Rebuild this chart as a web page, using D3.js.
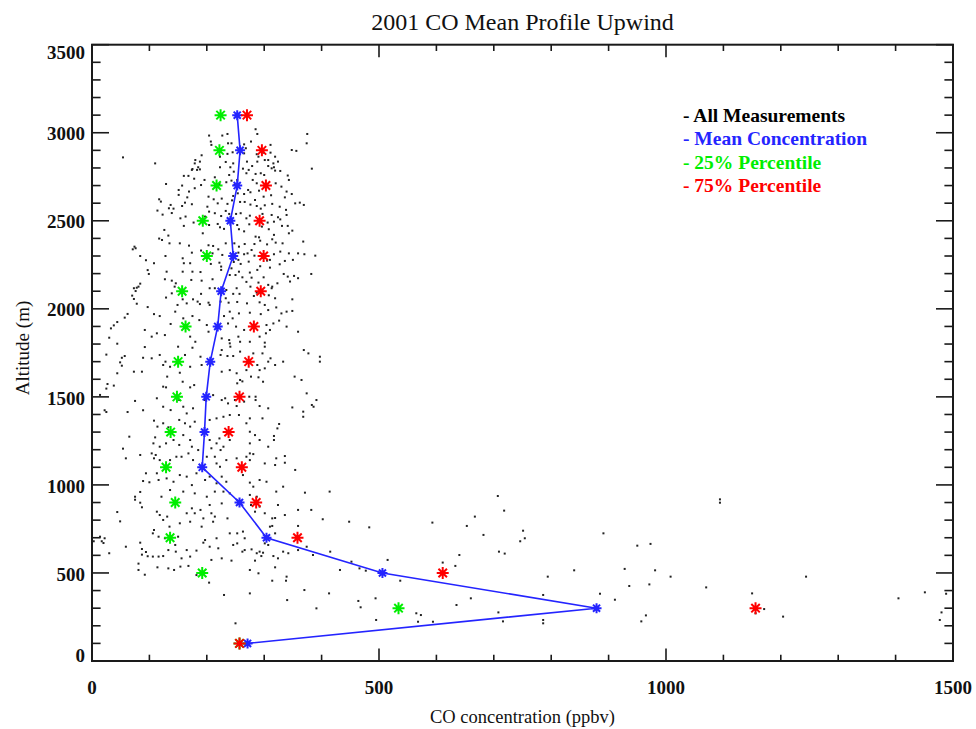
<!DOCTYPE html>
<html>
<head>
<meta charset="utf-8">
<script src="https://cdn.jsdelivr.net/npm/d3@7"></script>
<style>
  body { margin: 0; background: #fff; }
  svg { display: block; }
</style>
</head>
<body>
<svg id="chart" width="976" height="729"></svg>
<script>
// profile levels (m) and the three CO profiles (ppbv)
const altitudes = [100, 300, 500, 700, 900, 1100, 1300, 1500, 1700, 1900, 2100, 2300, 2500, 2700, 2900, 3100];
const meanCO = [271, 879, 506, 304, 257, 192, 196, 199, 206, 219, 225, 246, 241, 253, 258, 253];
const p25CO  = [257, 534, 192, 136, 145, 129, 137, 148, 150, 163, 157, 200, 193, 217, 222, 224];
const p75CO  = [257, 1156, 611, 358, 286, 261, 238, 257, 273, 282, 294, 299, 292, 303, 296, 270];

const xTickLabels = [0, 500, 1000, 1500];
const yTickLabels = [0, 500, 1000, 1500, 2000, 2500, 3000, 3500];

const legendLabels = ["- All Measurements", "- Mean Concentration", "- 25% Percentile", "- 75% Percentile"];

const measurements = [
  [285,3020],[204,2984],[227,2984],[236,2993],[288,2993],[375,2993],[207,2950],[208,2931],[277,2950],[265,2934],
  [243,2940],[268,2912],[237,2940],[311,2931],[374,2940],[245,2889],[236,2880],[287,2878],[299,2887],[265,2883],
  [290,2864],[348,2902],[356,2897],[311,2887],[319,2864],[191,2872],[180,2845],[110,2826],[179,2826],[188,2836],
  [223,2864],[233,2834],[223,2804],[241,2804],[246,2826],[270,2836],[288,2836],[301,2845],[307,2845],[316,2826],
  [324,2836],[313,2798],[319,2785],[307,2811],[317,2804],[263,2796],[273,2789],[279,2811],[383,2796],[175,2794],
  [174,2789],[185,2804],[183,2789],[188,2792],[160,2755],[168,2755],[239,2760],[269,2770],[285,2766],[294,2770],
  [300,2760],[247,2779],[328,2783],[341,2757],[343,2732],[178,2739],[196,2732],[214,2747],[129,2709],[157,2700],
  [179,2685],[169,2666],[190,2703],[222,2709],[234,2719],[243,2728],[248,2703],[253,2732],[287,2713],[280,2732],
  [320,2713],[330,2694],[151,2675],[151,2647],[117,2622],[166,2633],[203,2637],[212,2622],[226,2626],[246,2641],
  [254,2656],[265,2652],[272,2675],[276,2662],[291,2671],[336,2633],[339,2666],[348,2652],[299,2637],[312,2645],
  [120,2609],[137,2590],[134,2571],[114,2558],[123,2535],[162,2603],[157,2584],[174,2594],[201,2580],[219,2599],
  [236,2596],[244,2616],[258,2607],[266,2607],[276,2592],[284,2618],[287,2584],[301,2588],[294,2569],[314,2596],
  [327,2580],[354,2599],[362,2603],[369,2590],[338,2562],[339,2533],[324,2520],[142,2569],[139,2544],[154,2514],
  [163,2524],[204,2552],[197,2524],[214,2543],[225,2527],[233,2556],[239,2539],[251,2539],[259,2543],[269,2514],
  [275,2529],[297,2539],[313,2533],[317,2495],[306,2490],[328,2508],[341,2471],[331,2471],[126,2448],[133,2416],
  [160,2471],[177,2490],[193,2429],[204,2476],[219,2482],[223,2463],[230,2454],[253,2476],[256,2452],[265,2440],
  [274,2480],[296,2467],[308,2452],[317,2420],[349,2444],[343,2429],[117,2399],[122,2391],[135,2372],[153,2372],
  [169,2359],[203,2361],[211,2357],[233,2372],[248,2372],[256,2353],[266,2368],[283,2368],[285,2410],[291,2406],
  [293,2387],[305,2366],[314,2395],[332,2372],[368,2382],[320,2376],[128,2300],[108,2259],[158,2287],[174,2319],
  [190,2331],[210,2315],[220,2338],[227,2306],[255,2319],[265,2310],[271,2315],[278,2334],[283,2302],[310,2278],
  [317,2310],[328,2325],[343,2315],[359,2315],[370,2310],[389,2302],[382,2198],[160,2259],[171,2259],[207,2255],
  [222,2262],[225,2240],[247,2266],[255,2278],[259,2255],[273,2268],[288,2221],[293,2242],[305,2274],[310,2234],
  [327,2253],[336,2272],[350,2278],[130,2211],[158,2211],[175,2211],[189,2209],[225,2221],[243,2230],[256,2211],
  [275,2206],[334,2198],[341,2183],[127,2168],[139,2160],[146,2145],[173,2164],[191,2160],[210,2168],[240,2192],
  [250,2192],[262,2179],[269,2153],[278,2177],[290,2149],[299,2179],[314,2126],[323,2145],[345,2155],[352,2187],
  [359,2174],[144,2126],[139,2088],[205,2117],[234,2107],[252,2117],[276,2126],[287,2092],[307,2136],[313,2117],
  [129,2064],[158,2054],[176,2054],[190,2085],[214,2117],[233,2060],[246,2085],[257,2085],[282,2073],[308,2077],
  [319,2060],[349,2054],
  [149,2022],[165,2031],[184,2041],[188,2027],[203,2035],[205,2022],[224,2041],[238,2035],[253,2039],[270,2031],
  [292,2037],[301,2022],[321,2008],[330,1974],[339,1984],[349,1988],[307,1993],[294,1970],[275,1978],[256,1974],
  [240,1984],[230,1959],[245,1946],[108,1970],[118,1959],[145,1984],[159,1946],[175,1959],[187,1936],[137,1914],
  [200,1908],[203,1870],[237,1917],[251,1899],[265,1880],[304,1908],[310,1880],[303,1861],[316,1917],[326,1933],
  [339,1899],[359,1870],[113,1861],[104,1842],[127,1851],[171,1842],[180,1813],[150,1785],[175,1779],[226,1832],
  [239,1823],[240,1804],[241,1785],[255,1842],[258,1813],[275,1813],[301,1808],[301,1785],[292,1842],[369,1766],
  [377,1747],[397,1728],[397,1700],[104,1719],[118,1738],[128,1700],[162,1738],[189,1728],[191,1681],[226,1766],
  [224,1738],[236,1732],[246,1732],[258,1757],[281,1747],[297,1747],[311,1719],[307,1700],[288,1681],[292,1652],
  [301,1662],[319,1681],[333,1700],[124,1681],[136,1671],[171,1671],[153,1637],[158,1586],[131,1615],[124,1558],
  [129,1554],[178,1567],[171,1554],[226,1643],[240,1652],[252,1634],[258,1596],[253,1577],[262,1588],[269,1652],
  [277,1615],[290,1611],[298,1586],[353,1615],[365,1596],[374,1520],[391,1482],[386,1444],[383,1454],[349,1440],
  [368,1416],[368,1387],[113,1492],[124,1444],[137,1425],[152,1482],[159,1444],[165,1406],[176,1435],[197,1482],
  [211,1510],[226,1482],[232,1492],[237,1463],[249,1482],[252,1448],[265,1473],[274,1501],[285,1501],[285,1482],
  [292,1448],[307,1435],[108,1365],[114,1331],[124,1350],[133,1327],[152,1369],[162,1350],[171,1331],[179,1359],
  [205,1369],[217,1378],[229,1387],[240,1397],[256,1397],[275,1378],[269,1350],[297,1378],[275,1302],[284,1283],
  [292,1255],[326,1346],[323,1321],[317,1278],[317,1255],[110,1270],[107,1236],[118,1217],[129,1236],[142,1255],
  [152,1227],[159,1283],[171,1255],[174,1217],[185,1198],[205,1255],[208,1208],[217,1236],[222,1264],[229,1217],
  [224,1198],[240,1255],[275,1236],[275,1179],[281,1175],[307,1217],[321,1151],[336,1164],[104,1179],[111,1170],
  [108,1151],[118,1141],[136,1141],[147,1160],[156,1160],[168,1179],[176,1141],[200,1160],[214,1160],[217,1122],
  [223,1103],[234,1141],[252,1151],[269,1160],[275,1141],[301,1122],[319,1113],[336,1126],[354,1085],[113,1066],
  [116,1028],[130,1037],[142,1018],[153,1056],[165,1047],[174,999],[182,1066],[197,1028],[205,1047],[217,1009],
  [214,962],[226,1047],[234,1018],[263,1056],[275,1013],[281,990],[292,1028],[304,1018],[321,962],[333,990],
  [371,956],[414,962],[121,933],[136,971],[159,962],[179,952],[200,933],[229,962],[240,952],[275,943],[287,933],
  [707,937],[113,848],[118,829],[124,801],[131,820],[108,744],[106,725],[116,706],[127,697],[135,763],[153,782],
  [150,706],[165,839],[171,791],[174,867],[179,839],[189,858],[194,810],[191,763],[197,687],[205,886],[208,839],
  [214,820],[211,791],[217,697],[226,895],[236,810],[240,725],[246,659],[253,725],[263,735],[266,697],[277,886],
  [284,848],[292,877],[301,839],[314,810],[319,812],[314,767],[324,886],[336,829],[359,858],[359,767],[382,858],
  [402,805],[448,791],[483,759],[593,786],[653,767],[667,820],[682,716],[310,763],[319,725],[106,593],[116,593],
  [124,596],[133,630],[145,659],[146,621],[156,583],[165,630],[171,593],[182,627],[194,672],[205,649],[208,574],
  [220,640],[226,583],[243,570],[253,668],[262,621],[266,630],[278,634],[284,570],[287,612],[292,621],[301,668],
  [298,615],[295,596],[307,659],[316,596],[324,583],[333,621],[342,612],[359,630],[374,649],[385,602],[415,621],
  [452,564],[515,574],[709,621],[114,532],[133,526],[143,517],[154,536],[168,540],[182,488],[204,445],[230,375],
  [275,517],[290,498],[319,532],[314,456],[338,456],[339,479],[275,384],[370,403],[413,384],[432,517],[466,526],
  [477,513],[537,456],[611,559],[633,540],[640,602],[660,356],[635,318],[340,346],[391,299],[464,341],[468,305],
  [494,356],[495,233],[565,271],[573,261],[568,223],[594,223],[250,214],
  [718,854],[751,740],[754,697],[746,680],[719,610],[794,479],[840,515],[891,725],[950,655],[973,665],[1094,918],
  [1094,899],[928,523],[981,515],[1008,479],[936,426],[971,435],[1070,418],[1150,384],[1171,295],[1156,271],
  [885,382],[911,348],[786,375],[708,276],[716,225],[786,233],[786,214],[965,259],[957,225],
  [1244,479],[1405,356],[1451,390],[1488,382],[1480,276],[1477,233],[1204,252],
  [54,2860],[71,2338],[74,2353],[76,2344],[84,2300],[94,2276],[97,2220],[99,2198],[84,2143],[81,2126],[78,2120],
  [73,2117],[76,2101],[70,2075],[73,2056],[78,2029],[97,2010],[62,1971],[57,1950],[44,1925],[38,1906],[33,1889],
  [92,1880],[30,1836],[44,1802],[92,1783],[25,1740],[57,1732],[52,1722],[49,1696],[52,1677],[89,1722],[73,1643],
  [87,1643],[44,1634],[27,1573],[38,1564],[25,1547],
  [14,1511],[75,1477],[22,1424],[25,1414],[62,1414],[89,1424],[65,1274],[54,1206],[59,1151],[84,1170],[94,1066],
  [89,1022],[100,1015],[84,960],[75,933],[75,916],[84,899],[87,873],[44,846],[49,793],[14,706],[17,680],[20,670],
  [22,697],[3,680],[59,649],[30,612],[84,672],[87,636],[87,604],[94,619],[97,595],[81,553],[81,517],[92,490]
];

const svg = d3.select("#chart");
const W = 976, H = 729;
svg.append("rect").attr("width", W).attr("height", H).attr("fill", "#fff");

const x = d3.scaleLinear().domain([0, 1500]).range([92, 953]);
const y = d3.scaleLinear().domain([0, 3500]).range([661, 44.7]);

const serif = "'Liberation Serif', 'DejaVu Serif', serif";
const axisColor = "#1a1a1a";

// ticks on all four sides, pointing inward (IDL style)
let majLenX = 12.5, minLenX = 6.3;   // bottom / top
let majLenY = 17, minLenY = 8.6;     // left / right

let minorX = x.ticks(15), minorY = y.ticks(35);

function tickLines(g, vals, fn) {
  g.selectAll("line").data(vals).enter().append("line")
    .each(function(d) { d3.select(this).attr("x1", fn(d)[0]).attr("y1", fn(d)[1]).attr("x2", fn(d)[2]).attr("y2", fn(d)[3]); })
    .attr("stroke", axisColor).attr("stroke-width", 1.6);
}

let ticksG = svg.append("g");
let x0 = x.range()[0], x1 = x.range()[1], y0 = y.range()[0], y1 = y.range()[1];
tickLines(ticksG.append("g"), minorX, d => {
  let len = xTickLabels.includes(d) ? majLenX : minLenX;
  return [x(d), y0, x(d), y0 - len];
});
tickLines(ticksG.append("g"), minorX, d => {
  let len = xTickLabels.includes(d) ? majLenX : minLenX;
  return [x(d), y1, x(d), y1 + len];
});
tickLines(ticksG.append("g"), minorY, d => {
  let len = yTickLabels.includes(d) ? majLenY : minLenY;
  return [x0, y(d), x0 + len, y(d)];
});
tickLines(ticksG.append("g"), minorY, d => {
  let len = yTickLabels.includes(d) ? majLenY : minLenY;
  return [x1, y(d), x1 - len, y(d)];
});

// frame
svg.append("rect")
  .attr("x", x0).attr("y", y1)
  .attr("width", x1 - x0).attr("height", y0 - y1)
  .attr("fill", "none").attr("stroke", axisColor).attr("stroke-width", 2);

// tick labels
svg.append("g").selectAll("text").data(xTickLabels).enter().append("text")
  .attr("x", d => x(d)).attr("y", y0 + 26).attr("dy", "0.35em")
  .attr("text-anchor", "middle")
  .style("font-family", serif).style("font-weight", "bold").style("font-size", "19px")
  .attr("fill", "#111")
  .text(d => d);

svg.append("g").selectAll("text").data(yTickLabels).enter().append("text")
  .attr("x", x0 - 7)
  .attr("y", d => {
    if (d == 0) return y(d) - 6;
    if (d == 3500) return y(d) + 8;
    return y(d) + 1;
  })
  .attr("dy", "0.35em")
  .attr("text-anchor", "end")
  .style("font-family", serif).style("font-weight", "bold").style("font-size", "19px")
  .attr("fill", "#111")
  .text(d => d);

// title + axis titles
svg.append("text")
  .attr("x", (x0 + x1) / 2).attr("y", 30)
  .attr("text-anchor", "middle")
  .style("font-family", serif).style("font-size", "24px")
  .attr("fill", "#111")
  .text("2001 CO Mean Profile Upwind");

svg.append("text")
  .attr("x", (x0 + x1) / 2).attr("y", 723)
  .attr("text-anchor", "middle")
  .style("font-family", serif).style("font-size", "18.5px")
  .attr("fill", "#111")
  .text("CO concentration (ppbv)");

svg.append("text")
  .attr("transform", "translate(29,348) rotate(-90)")
  .attr("text-anchor", "middle")
  .style("font-family", serif).style("font-size", "19px")
  .attr("fill", "#111")
  .text("Altitude (m)");

// all measurements
svg.append("g").selectAll("rect").data(measurements).enter().append("rect")
  .attr("x", d => x(d[0]) - 1).attr("y", d => y(d[1]) - 1)
  .attr("width", 2).attr("height", 2)
  .attr("fill", "#222");

// asterisk symbol like IDL psym=2
function asterisk(cx, cy, r) {
  let p = "";
  [0, 45, 90, 135].forEach(a => {
    let rad = a * Math.PI / 180;
    let dx = r * Math.cos(rad), dy = r * Math.sin(rad);
    p += `M${cx - dx},${cy - dy}L${cx + dx},${cy + dy}`;
  });
  return p;
}

const blue = "#2424ff", green = "#00ee00", red = "#ff0000";

let meanPts = altitudes.map((a, i) => ({alt: a, co: meanCO[i]}));
let line = d3.line().x(d => x(d.co)).y(d => y(d.alt));
svg.append("path").datum(meanPts)
  .attr("d", line)
  .attr("fill", "none").attr("stroke", blue).attr("stroke-width", 1.6);

function drawStars(vals, color, r) {
  svg.append("g").selectAll("path").data(altitudes).enter().append("path")
    .attr("d", (d, i) => asterisk(x(vals[i]), y(d), r))
    .attr("stroke", color).attr("stroke-width", 2).attr("fill", "none");
}
drawStars(meanCO, blue, 5);
drawStars(p25CO, green, 6);
drawStars(p75CO, red, 6);

// legend
const legendColors = ["#000", blue, green, red];
svg.append("g").selectAll("text").data(legendLabels).enter().append("text")
  .attr("x", 683).attr("y", (d, i) => 115 + i * 23.5)
  .attr("dy", "0.35em")
  .style("font-family", serif).style("font-weight", "bold").style("font-size", "19.5px")
  .attr("fill", (d, i) => legendColors[i])
  .text(d => d);
</script>
</body>
</html>
